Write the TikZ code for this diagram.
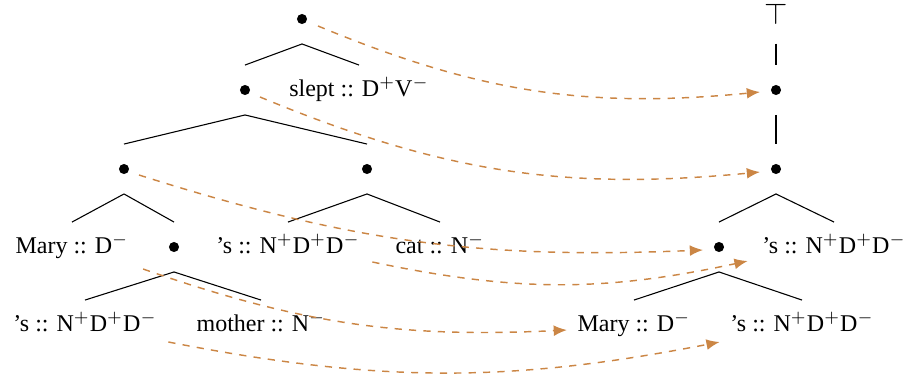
\documentclass[tikz,border=0pt]{standalone}
\usepackage{fontspec}
\setmainfont{Liberation Serif}
\usetikzlibrary{arrows.meta}
\definecolor{link_col}{HTML}{CB8645}
\tikzstyle{tree_node}=[rectangle,
                        minimum height=20.4pt,
                        text height=7pt,
                        text depth=2pt,
                        inner xsep=3pt, ]
\tikzstyle{tree_dot}=[tree_node,
                       minimum width=5pt,
                       path picture={\fill (path picture bounding box.center) circle (2.1pt);}, ]
\tikzstyle{tree_edge}=[black, line width=0.45pt]
\tikzstyle{link}=[link_col, dashed, semithick, -{Latex[length=5.5pt,width=4.5pt]}]
\newcommand{\fplus}{$^{+}$}
\newcommand{\fminus}{$^{-}$}

\begin{document}
\begin{tikzpicture}[x=0.41667pt, y=-0.41667pt]
  \useasboundingbox (0,0) rectangle (908,373);
  % Derived tree
  % -------------------------------------------------------------
  \node at (302,19) (root) [tree_dot] {};
  \node at (245,90) (v) [tree_dot] {};
  \node at (359,90) (slept) [tree_node] {slept :: D\fplus V\fminus};
  \node at (124,169) (d_left) [tree_dot] {};
  \node at (367,169) (d_right) [tree_dot] {};
  \node at (72,247) (mary_l) [tree_node] {Mary :: D\fminus};
  \node at (174,247) (poss) [tree_dot] {};
  \node at (288,247) (s_upper) [tree_node] {’s :: N\fplus D\fplus D\fminus};
  \node at (440,247) (cat) [tree_node] {cat :: N\fminus};
  \node at (85,325) (s_lower) [tree_node] {’s :: N\fplus D\fplus D\fminus};
  \node at (261,325) (mother) [tree_node] {mother :: N\fminus};

  \foreach \p/\c in {root/v, root/slept, v/d_left, v/d_right, d_left/mary_l,
                     d_left/poss, d_right/s_upper, d_right/cat, poss/s_lower, poss/mother} {
      \draw [tree_edge] (\p.south) -- (\c.north);
    }

  % Derivation tree
  % -------------------------------------------------------------
  \node at (776,18) (top) [tree_node, minimum height=0pt, inner ysep=1pt] {\scalebox{1.25}{$\top$}};
  \node at (776,90) (t_one) [tree_dot] {};
  \node at (776,169) (t_two) [tree_dot] {};
  \node at (719,247) (t_three) [tree_dot] {};
  \node at (834,247) (s_move) [tree_node] {’s :: N\fplus D\fplus D\fminus};
  \node at (634,325) (mary_r) [tree_node] {Mary :: D\fminus};
  \node at (802,325) (s_merge) [tree_node] {’s :: N\fplus D\fplus D\fminus};

  \draw [tree_edge, shorten <=5pt] (top.south) -- (t_one.north);
  \foreach \p/\c in {t_one/t_two, t_two/t_three, t_two/s_move,
                     t_three/mary_r, t_three/s_merge} {
      \draw [tree_edge] (\p.south) -- (\c.north);
    }

  % Links
  % -------------------------------------------------------------
  \draw [link] ([shift={(16,7)}]root.center) to[bend right=14] ([shift={(-16,2)}]t_one.center);
  \draw [link] ([shift={(15,7)}]v.center) to[bend right=14] ([shift={(-16,3)}]t_two.center);
  \draw [link] ([shift={(15,6)}]d_left.center) to[bend right=10] ([shift={(-16,3)}]t_three.center);
  \draw [link] ([shift={(5,15)}]s_upper.east) to[bend right=12] ([shift={(-7,14)}]s_move.west);
  \draw [link] ([shift={(7,22)}]mary_l.east) to[bend right=11] ([shift={(-3,5)}]mary_r.west);
  \draw [link] ([shift={(4,17)}]s_lower.east) to[bend right=11] ([shift={(-3,17)}]s_merge.west);
\end{tikzpicture}
\end{document}
